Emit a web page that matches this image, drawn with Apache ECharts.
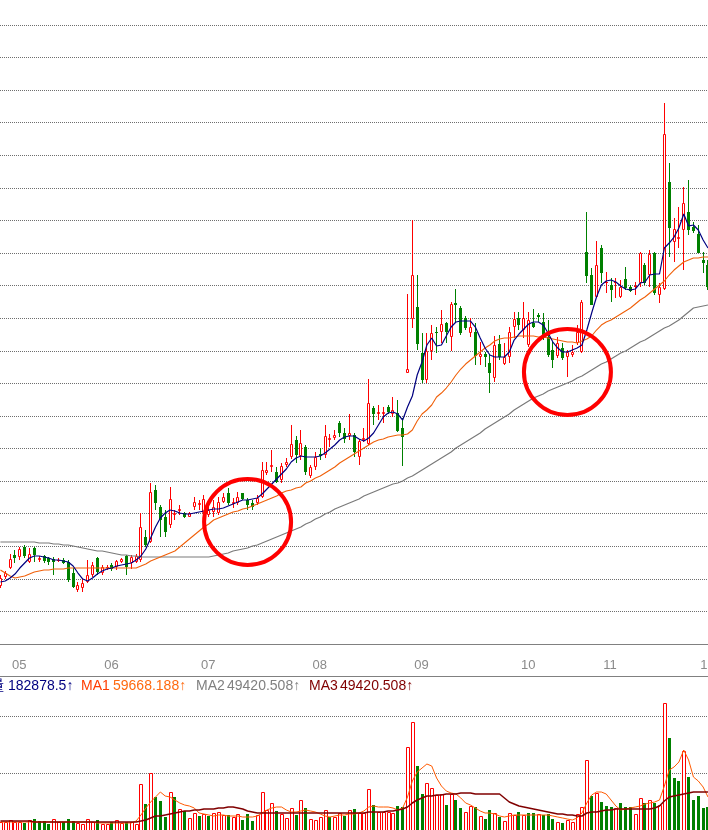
<!DOCTYPE html>
<html>
<head>
<meta charset="utf-8">
<title>K线</title>
<script src="https://cdn.jsdelivr.net/npm/echarts@6.0.0/dist/echarts.min.js"></script>
<style>
    html, body { margin: 0; padding: 0; background: #fff; }
    #main { width: 708px; height: 830px; }
</style>
</head>
<body>
<div id="main"></div>
<script>
// 日K数据 [开, 收, 低, 高]
const ohlc = [
    [5.8,6.6,5.6,6.9],[6.7,7.1,6.5,7.3],[7.6,8.5,7.5,9.0],[8.9,8.6,8.1,9.4],[8.7,9.5,8.4,9.7],
    [9.7,8.8,8.6,9.9],[8.2,9.0,8.1,9.6],[9.6,8.9,8.2,9.7],[8.4,8.6,8.2,8.8],[8.8,8.3,8.1,8.9],
    [8.6,8.2,7.9,8.7],[8.5,8.2,6.9,8.7],[8.3,8.4,8.2,8.6],[8.4,8.1,8.0,8.6],[8.2,6.4,6.2,8.4],
    [7.1,5.7,5.6,7.6],[5.4,5.9,5.2,6.2],[5.6,6.1,5.2,6.5],[6.2,6.9,6.1,8.4],[6.9,7.9,6.7,8.2],
    [8.6,7.2,6.9,8.7],[7.1,7.7,6.9,7.9],[7.6,7.7,7.4,7.9],[7.9,7.5,7.3,8.1],[7.7,8.3,7.4,8.4],
    [8.2,8.5,8.1,8.6],[8.8,7.7,6.9,8.9],[8.1,8.7,7.5,8.9],[8.2,8.8,8.1,9.0],[8.4,11.7,8.2,13.1],
    [10.7,9.9,9.7,11.4],[10.2,15.2,10.1,16.1],[15.4,14.1,13.4,15.9],[13.7,12.4,10.7,13.9],[12.7,11.2,10.7,13.4],
    [11.9,14.5,11.6,15.7],[12.9,13.1,12.4,13.4],[13.3,13.5,12.9,13.9],[13.1,12.7,12.6,13.2],[12.7,13.1,12.7,13.2],
    [13.7,14.2,13.4,14.7],[13.9,14.1,13.4,14.4],[13.1,14.5,12.9,14.9],[12.9,13.4,12.7,13.7],[13.2,13.7,12.7,14.4],
    [13.1,14.2,12.9,14.7],[14.2,14.7,14.1,15.1],[15.1,14.1,13.9,15.6],[14.0,14.2,13.6,14.6],[14.1,14.7,13.9,15.2],
    [15.1,14.5,14.4,15.1],[14.4,13.9,13.4,14.6],[14.1,13.7,13.4,14.4],[14.1,14.6,13.9,14.9],[14.7,17.4,14.6,18.2],
    [17.1,17.4,16.9,18.2],[17.7,17.9,17.2,19.4],[17.2,16.2,16.1,17.7],[16.4,17.8,16.1,18.1],[17.9,18.2,17.7,18.6],
    [18.7,20.0,18.5,21.9],[20.4,18.9,18.1,20.8],[18.8,20.1,18.4,21.4],[19.7,17.2,16.9,19.9],[16.8,17.7,16.6,17.9],
    [17.7,18.7,17.4,19.2],[19.0,18.8,18.4,19.6],[18.9,20.8,18.6,21.9],[20.4,20.6,19.7,21.0],[20.6,20.9,20.4,21.4],
    [22.1,21.1,20.7,22.3],[21.1,20.5,20.1,21.6],[20.8,21.1,20.4,23.0],[20.9,19.2,18.7,21.1],[18.7,20.3,17.9,20.5],
    [20.4,20.6,20.2,21.6],[20.0,24.1,19.9,26.5],[23.6,23.0,21.9,23.8],[23.0,23.2,22.4,23.9],[23.0,23.2,22.1,23.7],
    [23.7,23.2,23.0,23.9],[23.0,23.4,22.7,24.7],[23.1,21.3,21.2,24.4],[21.6,20.7,17.8,22.6],[27.1,27.5,27.1,35.0],
    [32.5,36.9,31.6,42.4],[33.7,30.0,29.4,36.9],[29.1,26.4,26.1,31.1],[26.4,29.3,26.1,31.1],[29.3,31.1,28.4,31.9],
    [31.2,31.1,29.1,31.7],[31.2,32.0,30.1,33.4],[32.1,31.2,30.1,32.2],[30.7,34.0,29.3,34.2],[34.1,33.9,32.1,35.5],
    [33.6,31.1,30.9,33.8],[32.6,31.6,31.4,32.8],[31.1,31.7,30.7,32.6],[31.2,28.8,27.9,32.1],[28.7,29.0,27.9,30.2],
    [29.0,28.7,27.7,29.2],[28.1,27.1,25.1,29.0],[26.6,29.9,26.2,30.8],[30.0,28.7,28.4,30.9],[28.0,28.7,27.9,30.1],
    [28.7,31.2,28.1,31.7],[31.7,32.5,30.6,33.2],[32.6,31.9,31.4,33.2],[31.4,32.6,30.6,34.2],[29.9,32.4,29.7,33.2],
    [32.1,31.7,31.6,33.5],[32.9,32.7,32.2,33.1],[32.2,30.7,30.4,33.1],[30.7,28.9,28.7,32.4],[29.4,28.4,27.6,30.2],
    [28.8,30.1,28.6,30.7],[29.6,28.6,28.4,30.1],[28.7,29.2,26.7,29.4],[28.9,29.2,28.7,29.9],[30.1,31.2,29.9,31.9],
    [29.2,34.2,29.1,34.4],[39.2,36.8,36.1,43.2],[36.9,33.9,33.9,37.6],[34.7,37.9,34.6,40.3],[39.6,37.1,36.1,39.9],
    [36.1,36.2,35.1,37.2],[35.9,35.4,34.2,36.6],[36.1,36.2,34.6,36.6],[34.7,35.7,34.6,36.4],[36.5,35.6,35.4,37.7],
    [35.7,35.3,35.2,35.9],[35.7,35.8,34.9,36.2],[36.1,39.1,35.7,39.2],[37.9,36.1,35.9,38.1],[36.9,39.0,35.7,39.4],
    [39.1,35.1,34.9,39.2],[34.9,35.7,34.1,36.1],[35.5,51.0,35.4,54.1],[46.2,41.6,38.7,48.1],[40.2,41.5,38.2,42.6],
    [40.5,40.7,39.6,43.7],[41.4,44.1,37.4,45.7],[43.2,41.4,40.9,46.4],[41.7,41.3,41.1,42.2],[41.0,39.1,39.1,41.9],
    [38.4,38.1,37.1,39.2],[37.9,35.7,35.4,38.4]
];

// 均线
const maShort = [
    6.2,6.3,6.6,7.0,7.6, 8.1,8.6,8.8,8.8,8.7, 8.6,8.4,8.4,8.3,8.2, 7.8,7.1,6.5,6.3,6.6,
    7.0,7.3,7.5,7.6,7.8, 7.9,8.0,8.1,8.4,8.8, 9.5,10.6,11.7,12.6,13.1, 13.4,13.3,13.1,13.0,13.0,
    13.1,13.2,13.3,13.4,13.5, 13.5,13.6,13.8,14.0,14.2, 14.4,14.4,14.5,14.6,15.0, 15.5,16.0,16.5,17.0,17.5,
    18.2,18.6,18.8,18.7,18.7, 18.7,18.8,19.1,19.5,19.9, 20.4,20.7,20.8,20.8,20.5, 20.3,20.6,21.1,21.9,22.7,
    23.1,23.2,23.0,22.4,23.7, 24.8,26.9,28.2,29.9,30.6, 29.8,29.9,30.8,31.7,32.2, 32.3,32.3,32.3,31.7,30.6,
    29.6,28.9,28.7,28.7,28.7, 29.2,30.4,31.0,31.5,32.0, 32.2,32.2,31.9,31.1,30.2, 29.6,29.2,29.2,29.4,29.6,
    29.9,31.4,33.1,34.7,35.9, 36.3,36.4,36.2,35.8,35.5, 35.4,35.5,36.1,36.2,36.9, 37.0,37.0,39.6,40.1,40.7,
    41.6,43.0,41.8,41.9,41.4, 40.4,39.6
];
const maMid = [
    7.4,7.1,6.8,6.6,6.7, 6.8,7.0,7.2,7.3,7.4, 7.4,7.5,7.5,7.5,7.6, 7.6,7.6,7.6,7.6,7.6,
    7.6,7.6,7.6,7.6,7.6, 7.6,7.6,7.6,7.6,7.8, 8.0,8.3,8.5,8.7,8.9, 9.1,9.3,9.7,10.1,10.5,
    10.9,11.3,11.7,12.0,12.4, 12.6,12.8,13.0,13.2,13.3, 13.5,13.6,13.8,14.0,14.2, 14.4,14.6,14.8,15.1,15.3,
    15.4,15.6,15.7,16.1,16.3, 16.6,16.8,17.1,17.4,17.7, 18.1,18.4,18.7,19.0,19.3, 19.6,19.9,20.2,20.4,20.5,
    20.7,20.8,20.9,20.9,21.0, 21.4,22.3,23.0,23.4,23.9, 24.7,25.1,25.6,26.2,26.9, 27.5,28.0,28.4,28.8,29.2,
    29.6,29.9,30.3,30.5,30.6, 30.6,30.7,30.8,30.8,30.8, 30.8,30.7,30.7,30.6,30.5, 30.4,30.3,30.2,30.2,30.1,
    30.3,30.5,30.8,31.4,31.9, 32.2,32.4,32.7,33.0,33.3, 33.6,34.0,34.4,34.7,35.1, 35.5,35.9,36.3,36.9,37.4,
    37.8,38.2,38.4,38.6,38.6, 38.7,38.7
];
const maLong = [
    10.2,10.2,10.2,10.2,10.2, 10.2,10.2,10.2,10.1,10.1, 10.1,10.0,10.0,9.9,9.9, 9.8,9.7,9.6,9.5,9.4,
    9.3,9.3,9.2,9.1,9.0, 8.9,8.9,8.8,8.8,8.7, 8.7,8.7,8.7,8.7,8.7, 8.7,8.7,8.7,8.7,8.7,
    8.7,8.7,8.7,8.7,8.8, 8.9,9.0,9.1,9.3,9.4, 9.5,9.6,9.8,9.9,10.1, 10.3,10.5,10.7,10.9,11.1,
    11.3,11.5,11.7,12.0,12.2, 12.5,12.7,13.0,13.2,13.5, 13.7,13.9,14.1,14.3,14.5, 14.8,15.0,15.2,15.4,15.6,
    15.8,16.0,16.1,16.3,16.6, 16.8,17.1,17.4,17.7,18.0, 18.3,18.6,18.9,19.2,19.6, 19.9,20.2,20.5,20.8,21.1,
    21.5,21.8,22.1,22.4,22.7, 23.0,23.4,23.7,24.0,24.3, 24.6,24.8,25.0,25.3,25.5, 25.7,25.9,26.1,26.3,26.6,
    26.8,27.1,27.4,27.7,28.0, 28.2,28.5,28.8,29.1,29.3, 29.6,29.9,30.2,30.4,30.7, 31.0,31.3,31.6,31.8,32.1,
    32.4,32.8,33.2,33.6,33.7, 33.8,33.9
];

// 成交量（万手）
const volumes = [
    0.8,0.8,1.0,0.8,0.8, 0.7,1.0,1.1,0.9,0.9, 0.6,1.1,0.8,0.8,1.1, 0.9,0.7,0.6,1.1,0.8,
    1.0,0.6,0.6,0.8,1.0, 0.7,0.8,0.8,0.6,4.6, 2.6,5.7,3.3,2.9,1.3, 3.8,3.3,2.1,1.9,1.2,
    1.7,1.4,1.6,1.4,1.7, 1.8,1.5,1.5,1.3,1.6, 1.0,1.6,0.9,1.5,3.8, 2.0,2.7,1.9,1.6,1.2,
    2.2,1.5,3.0,2.2,1.1, 1.0,1.3,2.0,1.3,1.3, 1.7,1.4,2.0,2.1,1.7, 1.7,4.1,2.5,1.8,1.8,
    1.8,1.7,2.4,2.3,8.3, 10.8,6.4,3.6,4.7,4.2, 3.5,3.6,2.5,3.6,3.0, 2.2,1.8,2.4,2.3,1.4,
    1.1,2.0,1.7,1.3,0.9, 1.7,1.5,1.8,1.5,1.7, 1.7,1.6,1.5,1.6,1.1, 0.8,0.7,1.0,0.8,1.6,
    2.3,7.0,3.4,3.7,2.8, 2.4,2.3,2.2,2.7,2.3, 2.3,1.6,3.2,2.7,3.0, 2.7,2.5,12.7,9.2,5.2,
    4.9,7.9,5.3,3.0,3.4, 2.2,2.3
];
const volMa1 = [
    0.8,0.8,0.8,0.8,0.8, 0.8,0.8,0.8,0.8,0.8, 0.8,0.8,0.8,0.8,0.8, 0.8,0.8,0.8,0.8,0.8,
    0.7,0.7,0.7,0.7,0.7, 0.7,0.7,0.7,0.9,1.5, 2.2,2.8,3.3,3.8,3.4, 3.3,3.0,2.7,2.5,2.4,
    2.2,1.7,1.6,1.5,1.4, 1.5,1.5,1.4,1.4,1.4, 1.3,1.3,1.3,1.4,1.7, 2.0,2.2,2.3,2.3,2.0,
    1.8,1.8,1.9,2.0,1.9, 1.8,1.6,1.4,1.3,1.4, 1.5,1.5,1.6,1.6,1.7, 1.9,2.3,2.4,2.3,2.3,
    2.3,2.2,2.0,2.2,3.3, 4.9,5.8,6.2,6.6,6.4, 5.2,4.4,3.9,3.7,3.6, 3.2,2.7,2.5,2.2,1.9,
    1.7,1.7,1.6,1.4,1.3, 1.4,1.5,1.5,1.5,1.5, 1.5,1.5,1.5,1.5,1.4, 1.3,1.2,1.1,1.0,1.2,
    1.7,2.7,3.5,3.8,3.8, 3.6,3.0,2.4,2.0,2.1, 2.2,2.3,2.4,2.6,2.7, 2.8,3.0,4.4,6.0,6.3,
    6.8,8.0,7.0,5.3,4.9, 4.3,3.3
];
const volMa3 = [
    0.9,0.9,0.9,0.9,0.9, 0.9,0.9,0.8,0.8,0.8, 0.8,0.8,0.8,0.8,0.8, 0.8,0.8,0.8,0.8,0.8,
    0.8,0.8,0.8,0.8,0.8, 0.8,0.8,0.8,0.8,0.9, 1.0,1.2,1.4,1.4,1.5, 1.6,1.7,1.8,1.9,1.9,
    2.0,2.0,2.1,2.1,2.1, 2.2,2.2,2.3,2.3,2.2, 2.1,1.9,1.8,1.7,1.7, 1.7,1.7,1.7,1.7,1.7,
    1.7,1.7,1.7,1.7,1.7, 1.7,1.7,1.7,1.7,1.7, 1.7,1.7,1.7,1.7,1.7, 1.7,1.8,1.8,1.8,1.8,
    1.9,1.9,2.0,2.1,2.3, 2.7,3.0,3.2,3.4,3.4, 3.5,3.5,3.6,3.6,3.6, 3.7,3.7,3.7,3.6,3.6,
    3.6,3.6,3.6,3.6,3.2, 2.8,2.6,2.4,2.3,2.2, 2.1,2.0,1.9,1.8,1.7, 1.6,1.6,1.5,1.5,1.4,
    1.4,1.7,1.8,1.8,1.9, 2.0,2.0,2.1,2.1,2.1, 2.1,2.1,2.1,2.1,2.1, 2.2,2.4,2.9,3.3,3.4,
    3.5,3.6,3.7,3.8,3.8, 3.8,3.8
];

// 月份刻度 [第几根K线, 标签]
const monthTicks = [[2, '05'], [21, '06'], [41, '07'], [64, '08'], [85, '09'], [107, '10'], [124, '11'], [144, '12']];

// 指标栏文字
const volLegend = [
    { text: '量', color: '#000080', x: 4, align: 'right' },
    { text: '182878.5↑', color: '#000080', x: 8 },
    { text: 'MA1', color: '#ff3c00', x: 81 },
    { text: '59668.188↑', color: '#ff6a10', x: 113 },
    { text: 'MA2', color: '#808080', x: 196 },
    { text: '49420.508↑', color: '#808080', x: 227 },
    { text: 'MA3', color: '#800000', x: 309 },
    { text: '49420.508↑', color: '#800000', x: 340 }
];

// 手画的红圈 [K线序号, 价格]
const circleNotes = [[51, 12.2], [117, 27.2]];

const RED = '#ff0000';
const GREEN = '#008000';

const days = ohlc.map((_, i) => i);
const monthName = {};
monthTicks.forEach(m => { monthName[m[0]] = m[1]; });

// 点状网格线
const gridLine = { lineStyle: { color: '#6e6e6e', width: 1, type: [1, 1] } };

// K线：按整像素画，空心阳线
function renderCandle(params, api) {
    const idx = api.value(0);
    const open = api.value(1), close = api.value(2), low = api.value(3), high = api.value(4);
    const pO = api.coord([idx, open]);
    const x = Math.floor(pO[0]);
    const yO = Math.round(pO[1]);
    const yC = Math.round(api.coord([idx, close])[1]);
    const yL = Math.round(api.coord([idx, low])[1]);
    const yH = Math.round(api.coord([idx, high])[1]);
    const top = Math.min(yO, yC), bot = Math.max(yO, yC);
    const up = close >= open;
    const color = up ? RED : GREEN;
    const children = [];
    if (yH < top) {
        children.push({ type: 'line', shape: { x1: x + 0.5, y1: yH, x2: x + 0.5, y2: top }, style: { stroke: color, lineWidth: 1 } });
    }
    if (yL > bot) {
        children.push({ type: 'line', shape: { x1: x + 0.5, y1: bot, x2: x + 0.5, y2: yL }, style: { stroke: color, lineWidth: 1 } });
    }
    if (up && bot - top >= 2) {
        children.push({ type: 'rect', shape: { x: x - 0.5, y: top + 0.5, width: 2, height: bot - top - 1 },
            style: { fill: '#ffffff', stroke: color, lineWidth: 1 } });
    } else {
        children.push({ type: 'rect', shape: { x: x - 1, y: top, width: 3, height: Math.max(1, bot - top) },
            style: { fill: color } });
    }
    return { type: 'group', children: children };
}

// 成交量柱
function renderVol(params, api) {
    const idx = api.value(0), v = api.value(1), up = api.value(2);
    const p = api.coord([idx, v]);
    const base = Math.round(api.coord([idx, 0])[1]);
    const x = Math.floor(p[0]);
    const top = Math.round(p[1]);
    if (up) {
        return { type: 'rect', shape: { x: x - 0.5, y: top + 0.5, width: 3, height: base - top },
            style: { fill: '#ffffff', stroke: RED, lineWidth: 1 } };
    }
    return { type: 'rect', shape: { x: x - 1, y: top, width: 3, height: base - top }, style: { fill: GREEN } };
}

const candleData = ohlc.map((k, i) => [i, k[0], k[1], k[2], k[3]]);
// 量柱颜色跟昨收比
const volData = volumes.map((v, i) => {
    const ref = i > 0 ? ohlc[i - 1][1] : ohlc[i][0];
    return [i, v, ohlc[i][1] >= ref ? 1 : 0];
});

const myChart = echarts.init(document.getElementById('main'));

const option = {
    animation: false,
    backgroundColor: '#ffffff',
    textStyle: { fontFamily: 'Liberation Sans, Arial, sans-serif' },
    grid: [
        { left: -2, width: 712.4, top: 25, height: 619, outerBoundsMode: 'none' },
        { left: -2, width: 712.4, top: 716, height: 114, outerBoundsMode: 'none' }
    ],
    xAxis: [
        {
            type: 'category', gridIndex: 0, data: days, boundaryGap: true, offset: 13,
            axisLine: { lineStyle: { color: '#808080', width: 1 } },
            axisTick: {
                alignWithLabel: true, length: 6,
                interval: (idx) => monthName[idx] !== undefined,
                lineStyle: { color: '#808080' }
            },
            axisLabel: {
                interval: 0, color: '#8a8a8a', fontSize: 13, align: 'left', margin: 2,
                padding: [0, 0, 0, 2],
                formatter: (v, idx) => monthName[idx] || ''
            },
            splitLine: { show: false }
        },
        { type: 'category', gridIndex: 1, data: days, boundaryGap: true, show: false }
    ],
    yAxis: [
        {
            type: 'value', gridIndex: 0, min: 0, max: 61.902, interval: 3.258,
            axisLine: { show: false }, axisTick: { show: false }, axisLabel: { show: false },
            splitLine: gridLine
        },
        {
            type: 'value', gridIndex: 1, min: 0, max: 11.4, interval: 5.7,
            axisLine: { show: false }, axisTick: { show: false }, axisLabel: { show: false },
            splitLine: gridLine
        }
    ],
    series: [
        {
            type: 'custom', xAxisIndex: 0, yAxisIndex: 0, data: candleData,
            renderItem: renderCandle, encode: { x: 0, y: [1, 2, 3, 4] }, silent: true
        },
        { type: 'line', xAxisIndex: 0, yAxisIndex: 0, data: maLong, symbol: 'none', silent: true,
          lineStyle: { color: '#7a7a7a', width: 1.2 } },
        { type: 'line', xAxisIndex: 0, yAxisIndex: 0, data: maMid, symbol: 'none', silent: true,
          lineStyle: { color: '#f0600a', width: 1.1 } },
        { type: 'line', xAxisIndex: 0, yAxisIndex: 0, data: maShort, symbol: 'none', silent: true,
          lineStyle: { color: '#000080', width: 1.2 } },
        {
            type: 'custom', xAxisIndex: 1, yAxisIndex: 1, data: volData,
            renderItem: renderVol, encode: { x: 0, y: 1 }, silent: true
        },
        { type: 'line', xAxisIndex: 1, yAxisIndex: 1, data: volMa1, symbol: 'none', silent: true,
          lineStyle: { color: '#ff5a00', width: 1 } },
        { type: 'line', xAxisIndex: 1, yAxisIndex: 1, data: volMa3, symbol: 'none', silent: true,
          lineStyle: { color: '#800000', width: 1.5 } }
    ]
};

myChart.setOption(option);

// 指标栏、分隔线、红圈
const graphics = [
    { type: 'line', z: 10, shape: { x1: 0, y1: 676.5, x2: 708, y2: 676.5 },
      style: { stroke: '#808080', lineWidth: 1 } }
];
volLegend.forEach(item => {
    graphics.push({
        type: 'text', z: 10, x: item.x, y: 686,
        style: {
            text: item.text, fill: item.color,
            font: '14px "Liberation Sans", "Noto Sans CJK SC", Arial, sans-serif',
            textAlign: item.align || 'left', align: item.align || 'left',
            textVerticalAlign: 'middle', verticalAlign: 'middle'
        }
    });
});
circleNotes.forEach(c => {
    const p = myChart.convertToPixel({ gridIndex: 0 }, c);
    graphics.push({
        type: 'ellipse', z: 20,
        shape: { cx: p[0], cy: p[1], rx: 43.5, ry: 43 },
        style: { fill: 'none', stroke: RED, lineWidth: 4 }
    });
});
myChart.setOption({ graphic: graphics });
</script>
</body>
</html>
